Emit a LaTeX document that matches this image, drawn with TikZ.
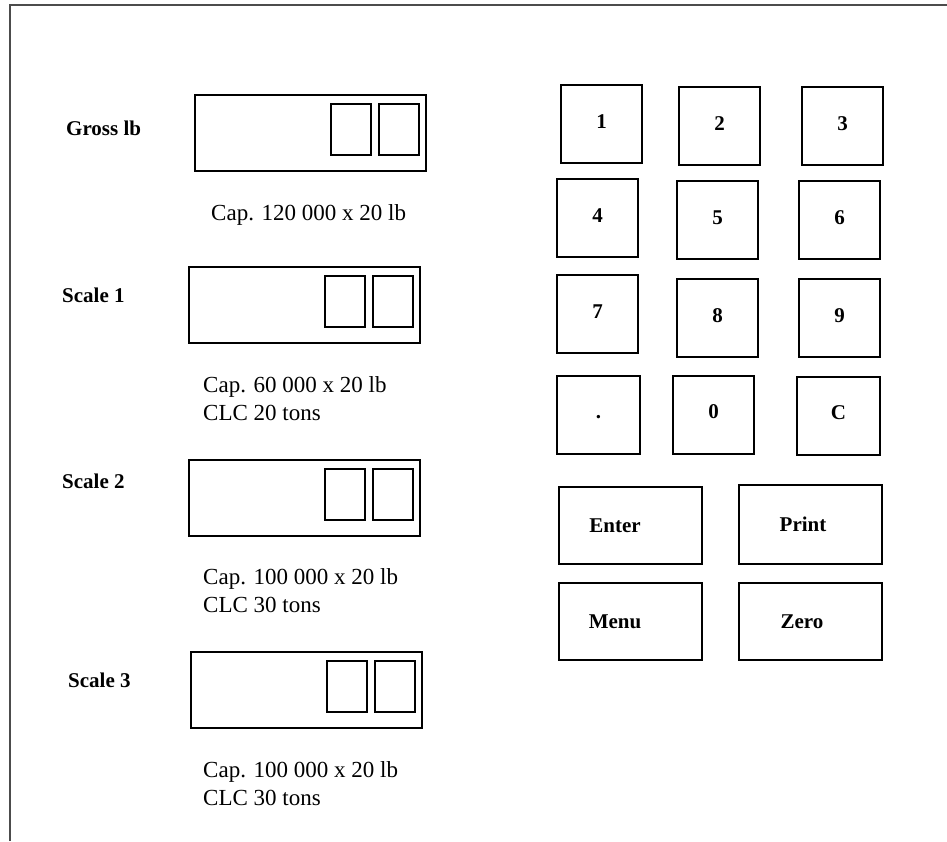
\documentclass[tikz,border=0pt]{standalone}
\usepackage{fontspec}
\setmainfont{Liberation Serif}
\usetikzlibrary{positioning}
\tikzset{
  frameline/.style={line width=2.2pt, black!70},
  display/.style={draw, line width=2pt, minimum width=231pt,
    minimum height=76pt, inner sep=0pt},
  digit/.style={draw, line width=2pt, minimum width=40pt,
    minimum height=51pt, inner sep=0pt},
  scalelabel/.style={font=\fontsize{21}{25}\selectfont\bfseries,
    inner sep=0pt, anchor=base west},
  captext/.style={font=\fontsize{23}{28}\selectfont, align=left,
    inner sep=0pt, anchor=base west},
  key/.style={draw, line width=2pt, minimum width=81pt,
    minimum height=78pt, inner sep=0pt,
    font=\fontsize{21}{25}\selectfont\bfseries,
    text height=14pt, text depth=6pt},
  widekey/.style={draw, line width=2pt, minimum width=143pt,
    minimum height=77pt, inner sep=0pt},
  keytxt/.style={font=\fontsize{21}{25}\selectfont\bfseries,
    inner sep=0pt, text height=14pt, text depth=0pt},
}
\begin{document}
\begin{tikzpicture}[x=1pt, y=-1pt]
  \useasboundingbox (0,0) rectangle (947,841);
  % Marco
  \draw[frameline] (10,841) -- (10,5) -- (947,5);

  % Display Gross lb
  \node[scalelabel] (gross-l) at (66,135) {Gross lb};
  \node[display] (gross) at (310.5,133) {};
  \node[digit, below left=9pt and 7pt of gross.north east] (gross-d2) {};
  \node[digit, left=6pt of gross-d2] (gross-d1) {};
  \node[captext] (gross-c) at (211,220) {Cap. 120 000 x 20 lb};

  % Display Scale 1
  \node[scalelabel] (s1-l) at (62,302) {Scale 1};
  \node[display] (s1) at (304.5,305) {};
  \node[digit, below left=9pt and 7pt of s1.north east] (s1-d2) {};
  \node[digit, left=6pt of s1-d2] (s1-d1) {};
  \node[captext] (s1-c) at (203,420) {Cap. 60 000 x 20 lb\\CLC 20 tons};

  % Display Scale 2
  \node[scalelabel] (s2-l) at (62,488) {Scale 2};
  \node[display] (s2) at (304.5,497.5) {};
  \node[digit, below left=9pt and 7pt of s2.north east] (s2-d2) {};
  \node[digit, left=6pt of s2-d2] (s2-d1) {};
  \node[captext] (s2-c) at (203,612) {Cap. 100 000 x 20 lb\\CLC 30 tons};

  % Display Scale 3
  \node[scalelabel] (s3-l) at (68,687) {Scale 3};
  \node[display] (s3) at (306.5,689.5) {};
  \node[digit, below left=9pt and 7pt of s3.north east] (s3-d2) {};
  \node[digit, left=6pt of s3-d2] (s3-d1) {};
  \node[captext] (s3-c) at (203,805) {Cap. 100 000 x 20 lb\\CLC 30 tons};

  % Teclado
  \node[key] (k1) at (601.5,124) {1};
  \node[key] (k2) at (719.5,126) {2};
  \node[key] (k3) at (842.5,126) {3};
  \node[key] (k4) at (597.5,218) {4};
  \node[key] (k5) at (717.5,220) {5};
  \node[key] (k6) at (839.5,220) {6};
  \node[key] (k7) at (597.5,314) {7};
  \node[key] (k8) at (717.5,318) {8};
  \node[key] (k9) at (839.5,318) {9};
  \node[key, minimum width=83pt] (kdot) at (598.5,414.5) {.};
  \node[key] (k0) at (713.5,414.5) {0};
  \node[key, minimum width=83pt] (kc) at (838.5,415.5) {C};

  % Teclas de funcion
  \node[widekey] (enter) at (630.5,525.5) {};
  \node[keytxt] (enter-l) at ([xshift=-15.5pt]enter.center) {Enter};
  \node[widekey, minimum height=79pt] (print) at (810.5,524.5) {};
  \node[keytxt] (print-l) at ([xshift=-7.5pt]print.center) {Print};
  \node[widekey] (menu) at (630.5,621.5) {};
  \node[keytxt] (menu-l) at ([xshift=-15.5pt]menu.center) {Menu};
  \node[widekey] (zero) at (810.5,621.5) {};
  \node[keytxt] (zero-l) at ([xshift=-8.5pt]zero.center) {Zero};
\end{tikzpicture}
\end{document}
